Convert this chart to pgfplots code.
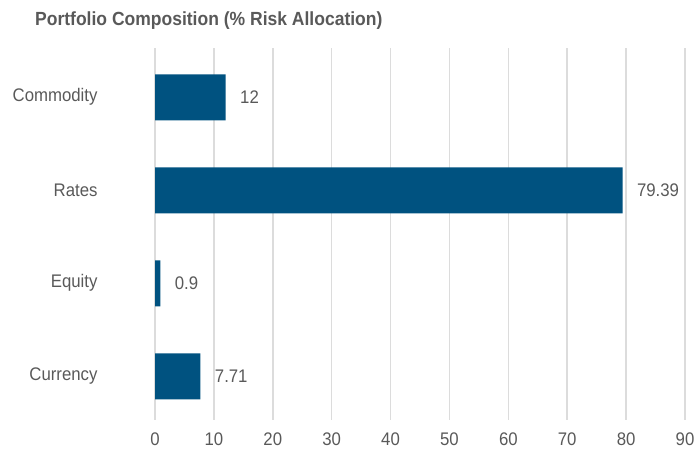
\documentclass[border=0pt]{standalone}
\usepackage{pgfplots}
\pgfplotsset{compat=1.18}
\usepackage{fontspec}
\setmainfont[FakeStretch=0.92]{Liberation Sans}
\definecolor{barblue}{RGB}{0,82,128}
\definecolor{txtgray}{RGB}{89,89,89}
\definecolor{gridgray}{RGB}{220,220,220}
\begin{document}
\begin{tikzpicture}[x=1bp,y=1bp]
\useasboundingbox (0,0) rectangle (696,453);
\node[anchor=west, font=\bfseries\fontsize{19.1}{21}\selectfont, text=txtgray, inner sep=0] at (35,432) {Portfolio Composition (\% Risk Allocation)};
\begin{axis}[
  at={(155bp,33bp)}, anchor=south west,
  scale only axis, width=530bp, height=372bp,
  xbar, bar width=46bp,
  xmin=0, xmax=90, ymin=-0.47, ymax=3.53,
  xtick={0,10,...,90},
  ytick={0,1,2,3},
  yticklabels={Currency,Equity,Rates,Commodity},
  axis line style={draw=none},
  major tick length=0pt,
  xmajorgrids, major grid style={gridgray, line width=1.5bp},
  ymajorgrids=false,
  tick label style={text=txtgray, font=\fontsize{18.3}{20}\selectfont},
  /pgf/number format/assume math mode=true,
  xticklabel style={yshift=-9bp},
  yticklabel style={xshift=-54bp, anchor=east},
  nodes near coords,
  point meta=explicit symbolic,
  every node near coord/.append style={text=txtgray, font=\fontsize{18.3}{20}\selectfont, anchor=west, xshift=11bp},
]
\addplot[fill=barblue, draw=none] coordinates {
  (7.71,0) [7.71]
  (0.9,1) [0.9]
  (79.39,2) [79.39]
  (12,3) [12]
};
\end{axis}
\end{tikzpicture}
\end{document}
